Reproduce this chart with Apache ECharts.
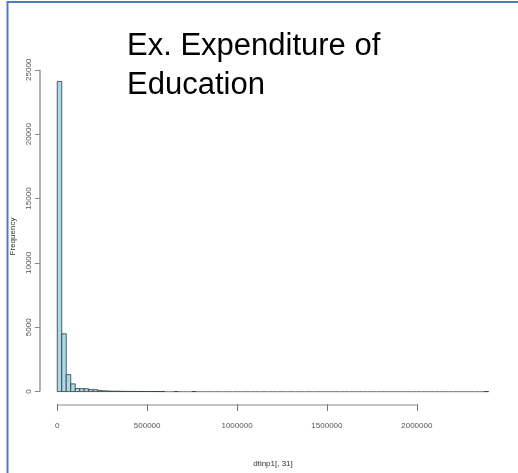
<!DOCTYPE html>
<html>
<head>
<meta charset="utf-8">
<script src="https://cdn.jsdelivr.net/npm/echarts@6/dist/echarts.min.js"></script>
<style>
  html, body { margin: 0; padding: 0; background: #fff; }
  #chart { width: 518px; height: 473px; }
</style>
</head>
<body>
<div id="chart"></div>
<script>
// Histogram of dtinp1[, 31]: bins of 25000, counts per bin
const binWidth = 25000;
const counts = [
  24100, 4490, 1320, 600, 240, 230, 220, 150, 150, 85,
  60, 45, 35, 28, 22, 18, 15, 12, 10, 9,
  8, 7, 5, 4, 0, 0, 2, 0, 0, 0,
  2, 0, 0, 0, 0, 0, 0, 0, 0, 0,
  0, 0, 0, 0, 0, 0, 0, 0, 0, 0,
  0, 0, 0, 0, 0, 0, 0, 0, 0, 0,
  0, 0, 0, 0, 0, 0, 0, 0, 0, 0,
  0, 0, 0, 0, 0, 0, 0, 0, 0, 0,
  0, 0, 0, 0, 0, 0, 0, 0, 0, 0,
  0, 0, 0, 0, 0, 1
];
const xTicks = [0, 500000, 1000000, 1500000, 2000000];
const yTicks = [0, 5000, 10000, 15000, 20000, 25000];

// plot ranges padded by 4% on each side
const xMin = -96000, xMax = 2496000;
const yMin = -964, yMax = 25064;

const bins = counts.map((c, i) => [i * binWidth, (i + 1) * binWidth, c]);

const chart = echarts.init(document.getElementById('chart'), null, { renderer: 'canvas' });

const tickFont = { fontFamily: 'Liberation Sans', fontSize: 8, color: '#555' };

chart.setOption({
  animation: false,
  backgroundColor: '#fff',
  title: {
    text: 'Ex. Expenditure of\nEducation',
    left: 127,
    top: 27,
    padding: 0,
    textStyle: {
      fontFamily: 'Liberation Sans',
      fontSize: 31,
      lineHeight: 39,
      fontWeight: 'normal',
      color: '#000'
    }
  },
  graphic: [{
    type: 'polyline',
    shape: { points: [[7.5, 473], [7.5, 2], [518, 2]] },
    style: { stroke: '#4A7EBB', lineWidth: 2, fill: null },
    silent: true
  }],
  grid: { left: 40, right: 12, top: 69, bottom: 68 },
  xAxis: {
    type: 'value',
    min: xMin,
    max: xMax,
    splitLine: { show: false },
    axisLine: { show: false, onZero: false },
    axisTick: {
      show: true,
      length: 7,
      customValues: xTicks,
      lineStyle: { color: '#777', width: 1 }
    },
    axisLabel: Object.assign({
      customValues: xTicks,
      margin: 18,
      formatter: v => String(v)
    }, tickFont),
    name: 'dtinp1[, 31]',
    nameLocation: 'middle',
    nameGap: 56,
    nameTextStyle: { fontFamily: 'Liberation Sans', fontSize: 8, color: '#333' }
  },
  yAxis: {
    type: 'value',
    min: yMin,
    max: yMax,
    splitLine: { show: false },
    axisLine: { show: false, onZero: false },
    axisTick: {
      show: true,
      length: 5,
      customValues: yTicks,
      lineStyle: { color: '#888', width: 1 }
    },
    axisLabel: Object.assign({
      customValues: yTicks,
      rotate: 90,
      margin: 7,
      formatter: v => String(v)
    }, tickFont),
    name: 'Frequency',
    nameLocation: 'middle',
    nameGap: 23,
    nameTextStyle: { fontFamily: 'Liberation Sans', fontSize: 8, color: '#333' }
  },
  series: [
    {
      // histogram bars
      type: 'custom',
      data: bins,
      encode: { x: [0, 1], y: 2 },
      renderItem: function (params, api) {
        const x0 = api.value(0), x1 = api.value(1), c = api.value(2);
        const p0 = api.coord([x0, c]);
        const p1 = api.coord([x1, 0]);
        if (c === 0) {
          return {
            type: 'line',
            shape: { x1: p0[0], y1: p1[1], x2: p1[0], y2: p1[1] },
            style: { stroke: '#8a8a8a', lineWidth: 1.2 }
          };
        }
        return {
          type: 'rect',
          shape: { x: p0[0], y: p0[1], width: p1[0] - p0[0], height: p1[1] - p0[1] },
          style: { fill: '#ADD8E6', stroke: '#2b3b3f', lineWidth: 0.8 }
        };
      },
      z: 3
    },
    {
      // R-style axis lines spanning only the tick range
      type: 'custom',
      data: [[0, 0]],
      encode: { x: 0, y: 1 },
      clip: false,
      renderItem: function (params, api) {
        const ya = api.coord([xMin, yTicks[0]]);
        const yb = api.coord([xMin, yTicks[yTicks.length - 1]]);
        const xa = api.coord([xTicks[0], yMin]);
        const xb = api.coord([xTicks[xTicks.length - 1], yMin]);
        return {
          type: 'group',
          children: [
            {
              type: 'line',
              shape: { x1: ya[0], y1: ya[1], x2: yb[0], y2: yb[1] },
              style: { stroke: '#999', lineWidth: 1.5 }
            },
            {
              type: 'line',
              shape: { x1: xa[0], y1: xa[1] + 1, x2: xb[0], y2: xb[1] + 1 },
              style: { stroke: '#888', lineWidth: 1.2 }
            }
          ]
        };
      },
      silent: true,
      z: 2
    }
  ]
});
</script>
</body>
</html>
